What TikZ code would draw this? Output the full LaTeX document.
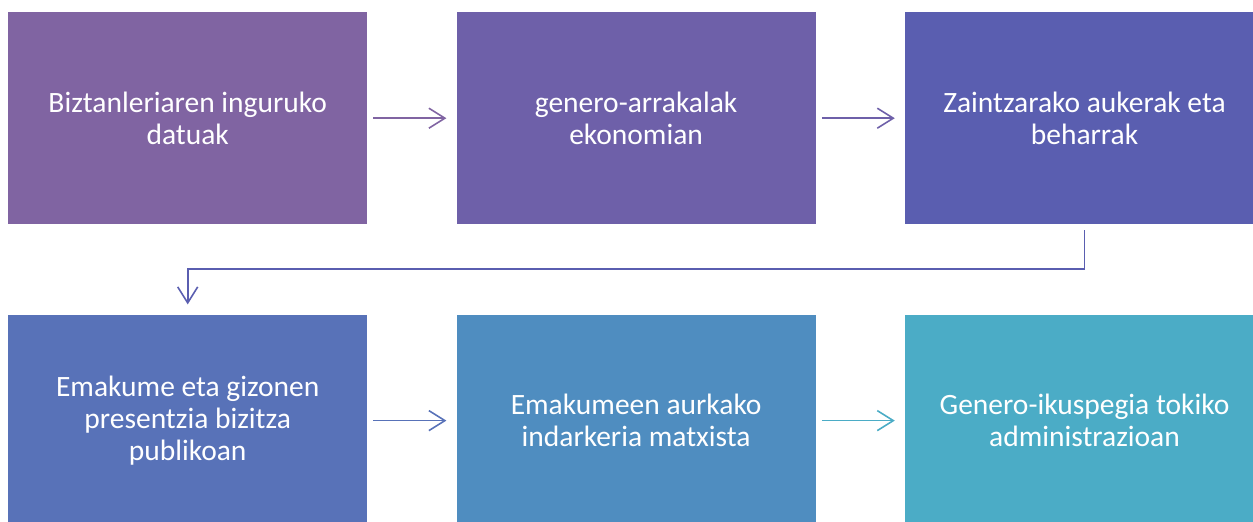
\documentclass[tikz,border=0pt]{standalone}
\usepackage{fontspec}
\setmainfont{Carlito}
\usetikzlibrary{positioning,arrows.meta}

\definecolor{boxA}{HTML}{8064A2}
\definecolor{boxB}{HTML}{6E60A9}
\definecolor{boxC}{HTML}{5A5EB0}
\definecolor{boxD}{HTML}{5872B8}
\definecolor{boxE}{HTML}{4F8DC0}
\definecolor{boxF}{HTML}{4BACC6}

\begin{document}
\begin{tikzpicture}[x=1pt, y=-1pt,
		stepbox/.style={rectangle, fill=#1, text=white, minimum width=359pt, minimum height=212pt,
			inner sep=0pt, align=center, font=\fontsize{29.5}{32}\selectfont},
		flow/.style={draw=#1, line width=1.6pt, -{Straight Barb[length=16pt, width=20pt, line width=1.6pt]},
			shorten <=6pt, shorten >=10pt}
	]

	\useasboundingbox (0,0) rectangle (1253,522);

	\begin{scope}
		\clip (0,0) rectangle (1253,522);

		\node[stepbox=boxA, anchor=north west] (datuak) at (8,12) {Biztanleriaren inguruko\\datuak};
		\node[stepbox=boxB] (arrakalak) [right=89pt of datuak] {genero-arrakalak\\ekonomian};
		\node[stepbox=boxC] (zaintza) [right=89pt of arrakalak] {Zaintzarako aukerak eta\\beharrak};

		\node[stepbox=boxD] (presentzia) [below=90pt of datuak] {Emakume eta gizonen\\presentzia bizitza\\publikoan};
		\node[stepbox=boxE] (indarkeria) [right=89pt of presentzia] {Emakumeen aurkako\\indarkeria matxista};
		\node[stepbox=boxF] (ikuspegia) [right=89pt of indarkeria] {Genero-ikuspegia tokiko\\administrazioan};
	\end{scope}

	\coordinate (bend) at (0,269);

	\draw[flow=boxA] (datuak) -- (arrakalak);
	\draw[flow=boxB] (arrakalak) -- (zaintza);
	\draw[flow=boxC] (zaintza.south) -- (zaintza.south |- bend) -- (presentzia.north |- bend) -- (presentzia.north);
	\draw[flow=boxD] (presentzia) -- (indarkeria);
	\draw[flow=boxF] (indarkeria) -- (ikuspegia);

\end{tikzpicture}
\end{document}
